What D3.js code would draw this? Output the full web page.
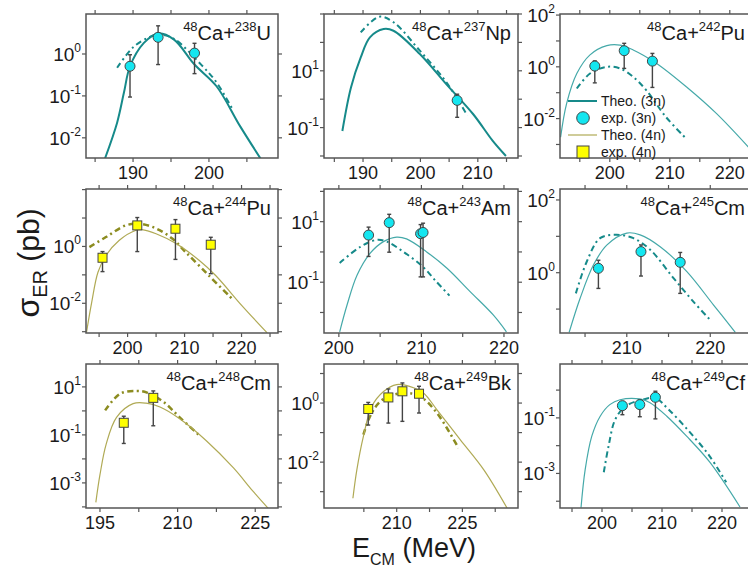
<!DOCTYPE html>
<meta charset="utf-8">
<html>
<head>
<style>
body { margin: 0; background: #fff; }
text { font-family: "Liberation Sans", Arial, sans-serif; fill: #1a1a1a; }
.frame { fill: none; stroke: #555; stroke-width: 1.5; }
.tk { stroke: #555; stroke-width: 1.2; }
.err { stroke: #444; stroke-width: 1.4; }
</style>
<script src="https://d3js.org/d3.v7.min.js"></script>
</head>
<body>
<svg width="748" height="568"></svg>
<script>
// curves are [E_cm (MeV), sigma (pb)]; exp rows are [E, sigma, low, high]
var u238Theo = [[186.3,0.0032],[187.9,0.023],[188.8,0.12],[189.6,0.51],[191.4,1.82],[193.3,3.1],[195.4,2.2],[198.1,0.56],[201,0.17],[204.1,0.019],[206.8,0.0032]];
var u238Alt  = [[187.9,0.47],[190.1,1.5],[192.3,2.6],[193.5,2.9],[195.4,2.3],[199,0.55],[201,0.21],[203,0.052]];
var u238Exp  = [[189.6,0.51,0.094,0.96],[193.3,2.5,0.56,4.7],[198.1,1.05,0.34,1.8]];

var np237Theo = [[186.4,0.076],[187.9,2.6],[189.6,29.5],[191.2,151],[193.6,295],[195.3,257],[199.9,38.9],[204.5,3.4],[209.2,0.295],[212.6,0.034],[214.9,0.01]];
var np237Alt  = [[189.6,224],[192.8,800],[195.3,513],[199.9,51],[204.5,4.0],[208.2,0.26]];
var np237Exp  = [[206.4,0.91,0.23,1.5]];

var pu242Theo = [[191.8,0.0019],[192.8,0.038],[194.5,0.55],[196.7,2.9],[199.5,6.6],[201.7,6.9],[203.9,4.5],[207.8,1.35],[212.8,0.166],[217.8,0.0155],[223.1,0.00079]];
var pu242Alt  = [[194.5,0.145],[196.7,0.55],[199.5,1.0],[201.7,0.87],[203.9,0.41],[206.1,0.123],[209.4,0.0112],[212.5,0.0019]];
var pu242Exp  = [[197.5,1.07,0.24,1.7],[202.4,4.2,0.87,8.1],[207.1,1.66,0.16,3.3]];

var pu244Theo = [[192.8,0.00098],[193.7,0.0107],[194.8,0.123],[196.2,0.48],[198.5,1.62],[201.5,3.7],[202.5,3.9],[205,2.8],[208.5,1.26],[212.6,0.32],[215.5,0.093],[220.1,0.0081],[224.5,0.00091]];
var pu244Alt  = [[193.3,0.95],[196.2,2.14],[199.7,5.5],[202.1,6.3],[205,4.3],[207.9,1.86],[210.2,0.63],[214.3,0.093],[218.4,0.014]];
var pu244Exp  = [[195.6,0.40,0.13,0.66],[201.7,5.5,0.66,10.4],[208.4,4.2,0.35,8.8],[214.6,1.15,0.11,2.1]];

var am243Theo = [[200.1,0.0023],[201,0.018],[202.2,0.17],[203.8,0.91],[205.4,2.19],[207,3.09],[208.2,2.69],[210.6,1.02],[213.1,0.29],[215.9,0.049],[218.7,0.0083],[220.3,0.0023]];
var am243Alt  = [[200.1,0.43],[202.6,1.48],[204.6,2.51],[205.8,2.19],[207.8,1.02],[210.2,0.32],[211.8,0.105],[213.4,0.036]];
var am243Exp  = [[203.6,3.6,0.71,6.6],[206.1,9.3,0.98,17.5],[209.9,4.0,0.15,8.0],[210.2,4.4,0.15,8.9]];

var cm245Theo = [[203.1,0.023],[204.4,0.195],[206,1.62],[207.6,5.75],[210,12.3],[211.6,11],[214,5.2],[217.2,1.07],[220.4,0.129],[223,0.023]];
var cm245Alt  = [[203.9,0.27],[205.2,2.0],[206.8,8.9],[208.8,11],[210.8,8.9],[212.8,4.3],[215.6,0.71],[218,0.158],[220,0.05]];
var cm245Exp  = [[206.6,1.32,0.37,2.2],[211.7,3.8,0.81,5.8],[216.4,1.93,0.27,3.6]];

var cm248Theo = [[194.2,0.000155],[195,0.0022],[196.2,0.041],[198.2,0.54],[201.4,2.0],[203.9,2.1],[206.6,1.45],[210.4,0.47],[215.6,0.056],[220.8,0.0042],[224.6,0.00044],[227.8,0.000074]];
var cm248Alt  = [[196,1.05],[198.9,5.2],[202.1,6.8],[204.1,5.75],[207.3,2.34],[210.4,0.54],[214.3,0.091]];
var cm248Exp  = [[199.6,0.32,0.044,0.6],[205.3,3.5,0.24,6.8]];

var bk249Theo = [[200,0.0006],[200.9,0.0055],[202.4,0.074],[204.3,0.76],[207,2.45],[210,4.2],[213.1,3.6],[216.1,2.19],[219.2,0.59],[224.5,0.058],[229.9,0.0055],[235.2,0.00028]];
var bk249Alt  = [[202.4,0.085],[203.9,0.35],[206.2,1.12],[209.3,1.9],[212.3,2.19],[215.4,1.66],[219.2,0.46],[224.1,0.03]];
var bk249Exp  = [[203.5,0.63,0.18,1.05],[208.1,1.55,0.21,3.0],[211.3,2.5,0.24,4.8],[215.1,2.07,0.46,3.7]];

var cf249Theo = [[196.5,0.000058],[197.2,0.0014],[198.3,0.022],[199.7,0.115],[201.3,0.30],[203,0.45],[206.3,0.48],[208,0.35],[210.8,0.115],[214.1,0.022],[218,0.0025],[223,0.000062]];
var cf249Alt  = [[200.3,0.0011],[201.1,0.0098],[202.2,0.087],[203.9,0.26],[206.7,0.45],[208.9,0.51],[211.1,0.2],[214.5,0.033],[217.9,0.0043],[220.7,0.00048]];
var cf249Exp  = [[203.4,0.275,0.13,0.39],[206.3,0.30,0.11,0.45],[208.9,0.55,0.092,0.91]];

var legendLabels = ["Theo. (3n)", "exp. (3n)", "Theo. (4n)", "exp. (4n)"];

var teal = "#168a8a", tealThin = "#45a9a9", olive = "#b0aa55", oliveDark = "#8c8c20";
var cyan = "#14e6f0", yellow = "#ffff00";

var colX = [86, 324, 560], colW = [192, 194, 192];
var rowY = [14, 189, 364], rowH = 144;

var panels = [
  {c:0, r:0, tgt:"238", el:"U",  xd:[183.8,209.1], yd:[0.0033,9],    xt:[190,200],     xm:[185,195,205],       yl:[0,-1,-2], theo:u238Theo, alt:u238Alt, exp:u238Exp, n:3, thick:true},
  {c:1, r:0, tgt:"237", el:"Np", xd:[183.2,217],   yd:[0.0085,1000], xt:[190,200,210], xm:[185,195,205,215],   yl:[1,-1],    theo:np237Theo, alt:np237Alt, exp:np237Exp, n:3, thick:true},
  {c:2, r:0, tgt:"242", el:"Pu", xd:[191.7,223.7], yd:[0.0003,110],  xt:[200,210,220], xm:[195,205,215],       yl:[2,0,-2],  theo:pu242Theo, alt:pu242Alt, exp:pu242Exp, n:3, legend:true},
  {c:0, r:1, tgt:"244", el:"Pu", xd:[192.7,226.4], yd:[0.0009,105],  xt:[200,210,220], xm:[195,205,215,225],   yl:[0,-2],    theo:pu244Theo, alt:pu244Alt, exp:pu244Exp, n:4},
  {c:1, r:1, tgt:"243", el:"Am", xd:[198.2,221.7], yd:[0.0021,120],  xt:[200,210,220], xm:[205,215],           yl:[1,-1],    theo:am243Theo, alt:am243Alt, exp:am243Exp, n:3},
  {c:2, r:1, tgt:"245", el:"Cm", xd:[202,225],     yd:[0.022,200],   xt:[210,220],     xm:[205,215],           yl:[2,0],     theo:cm245Theo, alt:cm245Alt, exp:cm245Exp, n:3},
  {c:0, r:2, tgt:"248", el:"Cm", xd:[192.3,229.4], yd:[0.00009,90],  xt:[195,210,225], xm:[202.5,217.5],       yl:[1,-1,-3], theo:cm248Theo, alt:cm248Alt, exp:cm248Exp, n:4},
  {c:1, r:2, tgt:"249", el:"Bk", xd:[193.4,237.7], yd:[0.00028,21],  xt:[210,225],     xm:[202.5,217.5,232.5], yl:[0,-2],    theo:bk249Theo, alt:bk249Alt, exp:bk249Exp, n:4},
  {c:2, r:2, tgt:"249", el:"Cf", xd:[193,225],     yd:[0.000057,8.7],xt:[200,210,220], xm:[195,205,215],       yl:[-1,-3],   theo:cf249Theo, alt:cf249Alt, exp:cf249Exp, n:3}
];

var svg = d3.select("svg");

function supText(sel, parts) {
  // parts: [text, size, dy]
  parts.forEach(function(p) {
    sel.append("tspan").attr("font-size", p[1]).attr("dy", p[2]).text(p[0]);
  });
}

panels.forEach(function(p, i) {
  var x0 = colX[p.c], w = colW[p.c], y0 = rowY[p.r], h = rowH;
  var x = d3.scaleLinear().domain(p.xd).range([x0, x0 + w]);
  var y = d3.scaleLog().domain(p.yd).range([y0 + h, y0]);
  var g = svg.append("g");

  g.append("clipPath").attr("id", "clip" + i)
    .append("rect").attr("x", x0).attr("y", y0).attr("width", w).attr("height", h);

  // ticks, outward on all four sides
  var lo = Math.ceil(Math.log10(p.yd[0])), hi = Math.floor(Math.log10(p.yd[1]));
  for (var e = lo; e <= hi; e++) {
    var ty = y(Math.pow(10, e));
    g.append("line").attr("class", "tk").attr("x1", x0 - 4).attr("x2", x0).attr("y1", ty).attr("y2", ty);
    g.append("line").attr("class", "tk").attr("x1", x0 + w).attr("x2", x0 + w + 4).attr("y1", ty).attr("y2", ty);
    if (p.yl.indexOf(e) >= 0) {
      var t = g.append("text").attr("x", x0 - 5).attr("y", ty + 7).attr("text-anchor", "end");
      supText(t, [["10", 19, 0], [String(e), 12, -9]]);
    }
  }
  p.xt.concat(p.xm).forEach(function(v) {
    var tx = x(v);
    g.append("line").attr("class", "tk").attr("x1", tx).attr("x2", tx).attr("y1", y0 + h).attr("y2", y0 + h + 4);
    g.append("line").attr("class", "tk").attr("x1", tx).attr("x2", tx).attr("y1", y0 - 4).attr("y2", y0);
  });
  p.xt.forEach(function(v) {
    g.append("text").attr("x", x(v)).attr("y", y0 + h + 21).attr("text-anchor", "middle")
      .attr("font-size", 18).text(v);
  });

  var line = d3.line().x(function(d) { return x(d[0]); }).y(function(d) { return y(d[1]); })
    .curve(d3.curveCatmullRom.alpha(0.5));

  var isOlive = p.n === 4;
  var cg = g.append("g").attr("clip-path", "url(#clip" + i + ")");
  cg.append("path").datum(p.alt).attr("d", line).attr("fill", "none")
    .attr("stroke", isOlive ? oliveDark : teal).attr("stroke-width", isOlive ? 2.5 : 2)
    .attr("stroke-dasharray", "6,3.5,2,3.5");
  cg.append("path").datum(p.theo).attr("d", line).attr("fill", "none")
    .attr("stroke", isOlive ? olive : (p.thick ? teal : tealThin))
    .attr("stroke-width", p.thick ? 2 : 1.2);

  // error bars
  p.exp.forEach(function(d) {
    var ex = x(d[0]);
    g.append("line").attr("class", "err").attr("x1", ex).attr("x2", ex).attr("y1", y(d[2])).attr("y2", y(d[3]));
    [d[2], d[3]].forEach(function(v) {
      g.append("line").attr("class", "err").attr("x1", ex - 2).attr("x2", ex + 2).attr("y1", y(v)).attr("y2", y(v));
    });
  });
  if (isOlive) {
    g.selectAll(".sq").data(p.exp).enter().append("rect")
      .attr("x", function(d) { return x(d[0]) - 4.5; }).attr("y", function(d) { return y(d[1]) - 4.5; })
      .attr("width", 9).attr("height", 9).attr("fill", yellow).attr("stroke", "#444").attr("stroke-width", 1);
  } else {
    g.selectAll(".ci").data(p.exp).enter().append("circle")
      .attr("cx", function(d) { return x(d[0]); }).attr("cy", function(d) { return y(d[1]); })
      .attr("r", 5).attr("fill", cyan).attr("stroke", "#444").attr("stroke-width", 1);
  }

  g.append("rect").attr("class", "frame").attr("x", x0).attr("y", y0).attr("width", w).attr("height", h);

  var tt = g.append("text").attr("x", x0 + w - 7).attr("y", y0 + 26).attr("text-anchor", "end");
  supText(tt, [["48", 13, -9], ["Ca+", 20, 9], [p.tgt, 13, -9], [p.el, 20, 9]]);

  if (p.legend) {
    var lx = x0 + 8, ly = y0 + 87, sp = 17;
    g.append("line").attr("x1", lx).attr("x2", lx + 29).attr("y1", ly).attr("y2", ly)
      .attr("stroke", teal).attr("stroke-width", 2);
    g.append("circle").attr("cx", lx + 15).attr("cy", ly + sp).attr("r", 6.3)
      .attr("fill", cyan).attr("stroke", "#444");
    g.append("line").attr("x1", lx).attr("x2", lx + 29).attr("y1", ly + 2 * sp).attr("y2", ly + 2 * sp)
      .attr("stroke", olive).attr("stroke-width", 1.2);
    g.append("rect").attr("x", lx + 9).attr("y", ly + 3 * sp - 6).attr("width", 12).attr("height", 12)
      .attr("fill", yellow).attr("stroke", "#444");
    legendLabels.forEach(function(s, k) {
      g.append("text").attr("x", lx + 33).attr("y", ly + k * sp + 5).attr("font-size", 14).text(s);
    });
  }
});

// axis titles
var yt = svg.append("text").attr("transform", "translate(39,263) rotate(-90)").attr("text-anchor", "middle");
supText(yt, [["σ", 32, 0], ["ER", 20, 8], [" (pb)", 30, -8]]);
var xt = svg.append("text").attr("x", 352).attr("y", 557);
supText(xt, [["E", 27, 0], ["CM", 16, 8], [" (MeV)", 27, -8]]);
</script>
</body>
</html>
